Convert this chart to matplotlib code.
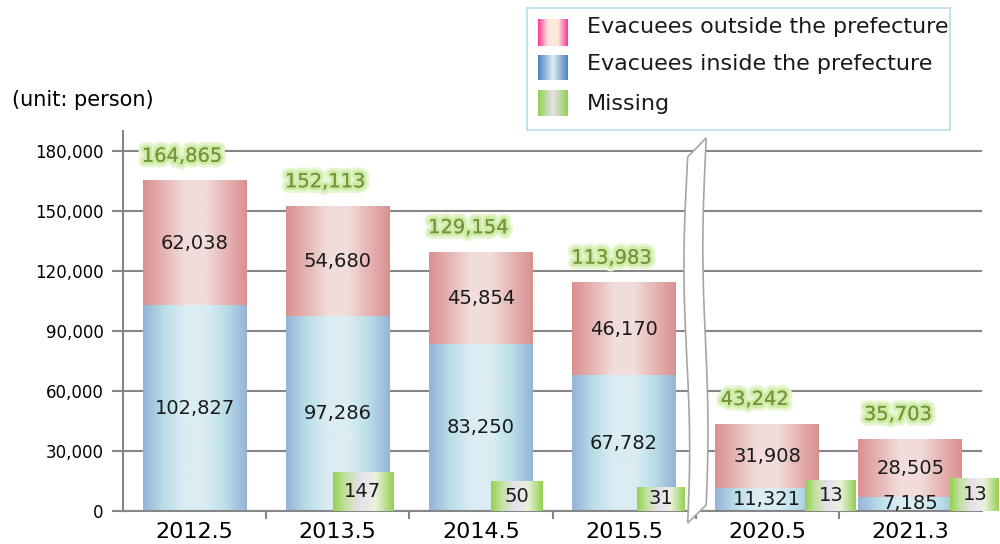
import numpy as np
import matplotlib
matplotlib.use("Agg")
import matplotlib.pyplot as plt
import matplotlib.patheffects as pe
import matplotlib.transforms as mtransforms
from matplotlib.colors import LinearSegmentedColormap
from matplotlib.patches import Polygon

# データ
categories = ["2012.5", "2013.5", "2014.5", "2015.5", "2020.5", "2021.3"]
inside = [102827, 97286, 83250, 67782, 11321, 7185]
outside = [62038, 54680, 45854, 46170, 31908, 28505]
totals = [164865, 152113, 129154, 113983, 43242, 35703]
missing = [None, 147, 50, 31, 13, 13]
# 行方不明者の棒は実寸ではない（表示用の高さ）
missing_shown = [0, 19500, 15000, 12000, 15500, 16500]

# 行方不明者の棒の配置（カテゴリ中心からの左端オフセットと幅）
missing_left = [0.0, -0.036, 0.067, 0.087, 0.267, 0.279]
missing_width = [0.0, 0.42, 0.363, 0.335, 0.356, 0.342]

plt.rcParams["font.family"] = ["DejaVu Sans"]

red_cmap = LinearSegmentedColormap.from_list(
    "red", ["#d9908f", "#e6b4b4", "#f2dcdc", "#f2dcdc", "#e6b4b4", "#d9908f"])
blue_cmap = LinearSegmentedColormap.from_list(
    "blue", ["#95b3d7", "#b9dde8", "#dbedf3", "#dbedf3", "#b9dde8", "#95b3d7"])
green_cmap = LinearSegmentedColormap.from_list(
    "green", [(0, "#92d050"), (0.2, "#c2e29e"), (0.45, "#e6e0ec"), (0.7, "#ebf1de"), (1, "#92d050")])

grad = np.linspace(0, 1, 256).reshape(1, -1)


def fill_gradient(ax, rects, cmap, zorder=2, clip=True):
    # 棒の矩形をグラデーション画像で塗る
    for r in rects:
        if r.get_height() <= 0:
            continue
        x0, w, y0, h = r.get_x(), r.get_width(), r.get_y(), r.get_height()
        im = ax.imshow(grad, cmap=cmap, extent=(x0, x0 + w, y0, y0 + h),
                       aspect="auto", interpolation="bicubic", zorder=zorder)
        im.set_clip_on(clip)


fig = plt.figure(figsize=(10, 5.44), dpi=100)
ax = fig.add_axes([0.123, 33 / 544, 0.859, 380 / 544])

x = np.arange(len(categories))
bw = 0.726
b_in = ax.bar(x, inside, bw, color="none", zorder=2)
b_out = ax.bar(x, outside, bw, bottom=inside, color="none", zorder=2)
fill_gradient(ax, b_in, blue_cmap)
fill_gradient(ax, b_out, red_cmap)

m_x = [xi + l for xi, l in zip(x, missing_left)]
b_miss = ax.bar(m_x, missing_shown, missing_width, align="edge", color="none", zorder=3)
fill_gradient(ax, b_miss, green_cmap, zorder=3, clip=False)

# 数値ラベル
for i in range(len(categories)):
    ax.text(x[i], inside[i] / 2, f"{inside[i]:,}", ha="center", va="center",
            fontsize=14, color="#1a1a1a", zorder=5)
    ax.text(x[i], inside[i] + outside[i] / 2, f"{outside[i]:,}", ha="center", va="center",
            fontsize=14, color="#1a1a1a", zorder=5)
    ax.annotate(f"{totals[i]:,}", (x[i], totals[i]), xytext=(-9, 18),
                textcoords="offset points", ha="center", va="center",
                fontsize=14, color="#77933c", zorder=6,
                path_effects=[pe.withStroke(linewidth=8, foreground="#e6f5d0"),
                              pe.withStroke(linewidth=4, foreground="#cdeca6"),
                              pe.Normal()])
    if missing[i] is not None:
        ax.text(m_x[i] + missing_width[i] / 2, missing_shown[i] / 2, str(missing[i]),
                ha="center", va="center", fontsize=14, color="#1a1a1a", zorder=6,
                clip_on=False)

ax.set_xlim(-0.5, len(categories) - 0.5)
ax.set_ylim(0, 190000)
ax.set_yticks(np.arange(0, 180001, 30000))
ax.set_yticklabels([f"{v:,}" for v in range(0, 180001, 30000)], fontsize=12)
ax.set_xticks(x)
ax.set_xticklabels(categories, fontsize=16)
shift = mtransforms.ScaledTranslation(-8 / 100, 0, fig.dpi_scale_trans)
for lbl in ax.get_xticklabels():
    lbl.set_transform(lbl.get_transform() + shift)
ax.set_xticks(np.arange(0.5, len(categories) - 0.5, 1), minor=True)
ax.tick_params(axis="x", which="major", length=0, pad=8)
ax.tick_params(axis="x", which="minor", length=6, color="#868686", width=1.5)
ax.tick_params(axis="y", length=8, color="#868686", width=1.5, pad=6)
ax.grid(axis="y", color="#868686", linewidth=1.5)
ax.set_axisbelow(True)
for s in ["top", "right"]:
    ax.spines[s].set_visible(False)
for s in ["left", "bottom"]:
    ax.spines[s].set_color("#868686")
    ax.spines[s].set_linewidth(1.5)

# 省略記号（波線）
t = np.linspace(0, 1, 40)
left_y = -6000 + t * (177000 + 6000)
left_x = 3.438 + 0.02 * np.sin(2 * np.pi * t + 0.3)
right_y = 186500 - t * (186500 - 3000)
right_x = 3.568 + 0.018 * np.sin(2 * np.pi * (1 - t) + 0.3)
pts = np.column_stack([np.r_[left_x, right_x], np.r_[left_y, right_y]])
ax.add_patch(Polygon(pts, closed=True, facecolor="white", edgecolor="#a6a6a6",
                     linewidth=1.2, zorder=7, clip_on=False))

fig.text(0.012, 1 - 100 / 544, "(unit: person)", fontsize=15, va="center")

# 凡例（グラデーション付き）
lax = fig.add_axes([0.527, 1 - 130 / 544, 0.423, 122 / 544])
lax.set_xticks([])
lax.set_yticks([])
for s in lax.spines.values():
    s.set_color("#b7dde8")
    s.set_linewidth(1.2)
legend_items = [
    ("Evacuees outside the prefecture", ["#ff3399", "#fde9d9", "#fde9d9", "#ff3399"], 11, 38, 25),
    ("Evacuees inside the prefecture", ["#4f81bd", "#dbeef3", "#4f81bd"], 47, 72, 62),
    ("Missing", ["#92d050", "#e6e0ec", "#92d050"], 82, 108, 102),
]
for label, cols, y0, y1, yb in legend_items:
    cm = LinearSegmentedColormap.from_list(label, cols)
    lax.imshow(grad, cmap=cm, extent=(11, 41, y1, y0), aspect="auto", interpolation="bicubic")
    lax.text(60, yb, label, fontsize=16, va="baseline", color="#1a1a1a")
lax.set_xlim(0, 423)
lax.set_ylim(122, 0)

fig.savefig("out.png", dpi=100, facecolor="white")
